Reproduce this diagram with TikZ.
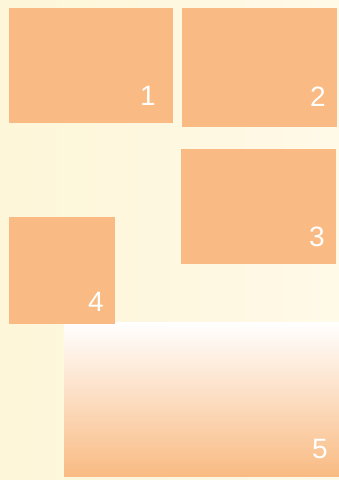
\documentclass[tikz,border=0pt]{standalone}
\usepackage{fontspec}
\setmainfont{Liberation Sans}
\definecolor{boxorange}{HTML}{F9BB83}
\definecolor{creamL}{HTML}{FDF6D8}
\definecolor{creamR}{HTML}{FFF9E8}
\tikzset{
  panel/.style={fill=boxorange, draw=none},
  num/.style={text=white, font=\fontsize{28}{28}\selectfont, inner sep=0pt, anchor=south east}
}
\begin{document}
\begin{tikzpicture}[x=1pt,y=-1pt]
\useasboundingbox (0,0) rectangle (339,480);
\shade[left color=creamL, right color=creamR] (0,0) rectangle (339,480);
\fill[panel] (9,8) rectangle (173,123);
\node[num] (n1) at (156,106) {1};
\fill[panel] (182,8) rectangle (337,127);
\node[num] (n2) at (326,107) {2};
\fill[panel] (181,149) rectangle (336,264);
\node[num] (n3) at (325,247) {3};
\shade[top color=white, bottom color=boxorange] (64,322) rectangle (339,476);
\node[num] (n5) at (328,459) {5};
\fill[panel] (9,217) rectangle (115,324);
\node[num] (n4) at (104,312) {4};
\end{tikzpicture}
\end{document}
